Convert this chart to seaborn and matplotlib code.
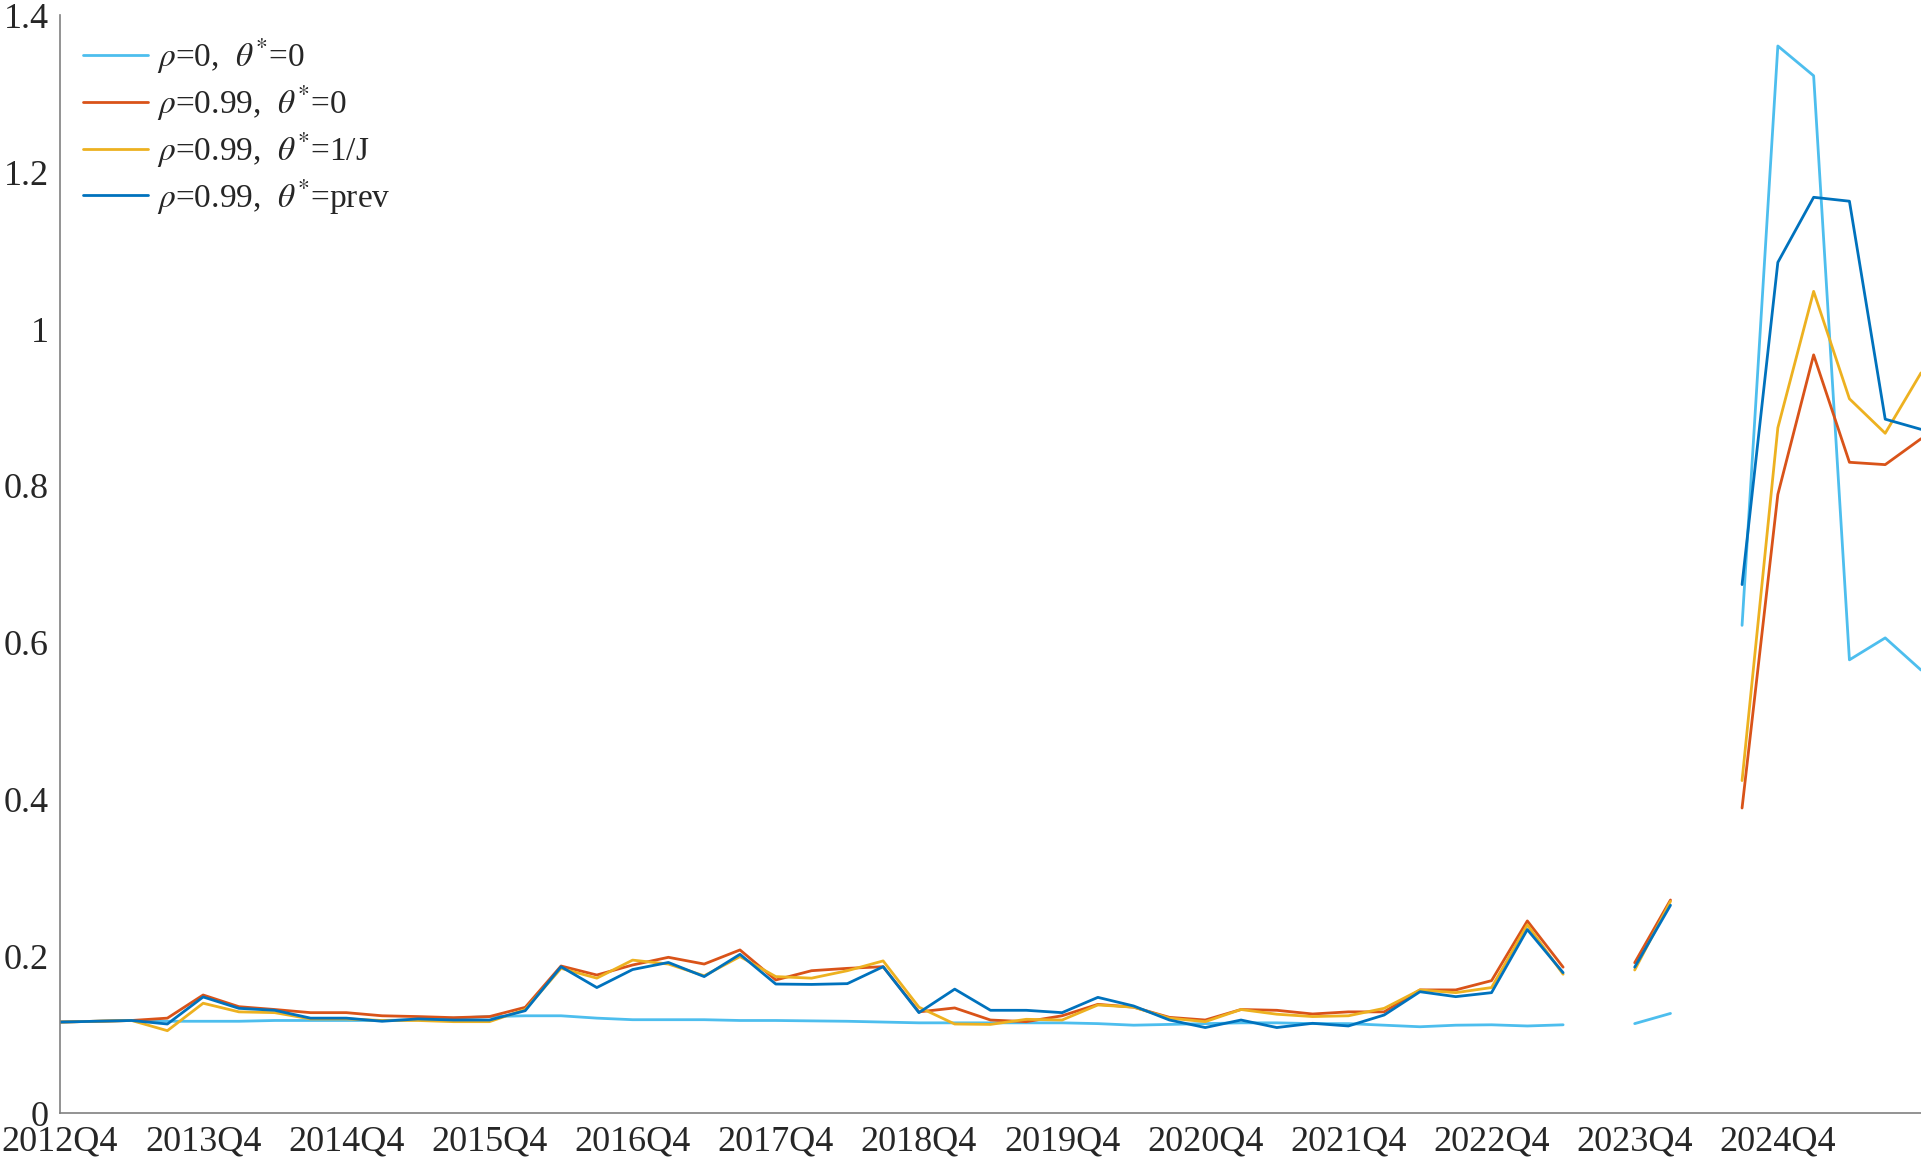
import numpy as np
import pandas as pd
import matplotlib
matplotlib.use("Agg")
import matplotlib.pyplot as plt
import seaborn as sns

nan = np.nan

quarters = ["2012Q4", "2013Q4", "2014Q4", "2015Q4", "2016Q4", "2017Q4",
            "2018Q4", "2019Q4", "2020Q4", "2021Q4", "2022Q4", "2023Q4", "2024Q4"]
ytick_labels = ["0", "0.2", "0.4", "0.6", "0.8", "1", "1.2", "1.4"]

rho0_theta0 = [0.116, 0.117, 0.118, 0.117, 0.117, 0.117, 0.118, 0.118, 0.118, 0.118,
               0.119, 0.121, 0.123, 0.124, 0.124, 0.121, 0.119, 0.119, 0.119, 0.118,
               0.118, 0.1175, 0.117, 0.116, 0.115, 0.115, 0.115, 0.115, 0.115, 0.114,
               0.112, 0.113, 0.114, 0.115, 0.115, 0.114, 0.114, 0.112, 0.110, 0.112,
               0.1125, 0.111, 0.1125, nan, 0.114, 0.127, nan, 0.622, 1.361, 1.323,
               0.578, 0.606, 0.565]

rho99_theta0 = [0.116, 0.117, 0.118, 0.121, 0.1505, 0.1356, 0.132, 0.128, 0.128, 0.124,
                0.123, 0.1216, 0.123, 0.1348, 0.1875, 0.176, 0.1888, 0.1986, 0.190, 0.208,
                0.1697, 0.1815, 0.1845, 0.1866, 0.129, 0.134, 0.1186, 0.1165, 0.124, 0.1386,
                0.135, 0.122, 0.1186, 0.132, 0.131, 0.1263, 0.129, 0.129, 0.157, 0.157,
                0.1688, 0.245, 0.186, nan, 0.1917, 0.2717, nan, 0.389, 0.789, 0.967,
                0.830, 0.827, 0.860]

rho99_theta1J = [0.116, 0.117, 0.118, 0.105, 0.140, 0.129, 0.128, 0.120, 0.120, 0.118,
                 0.118, 0.1165, 0.1165, 0.132, 0.1845, 0.172, 0.195, 0.190, 0.175, 0.1995,
                 0.174, 0.172, 0.1815, 0.194, 0.135, 0.1135, 0.113, 0.1195, 0.1186, 0.1378,
                 0.135, 0.121, 0.1165, 0.132, 0.126, 0.123, 0.124, 0.1335, 0.157, 0.1535,
                 0.160, 0.240, 0.177, nan, 0.1824, 0.270, nan, 0.424, 0.874, 1.048,
                 0.911, 0.867, 0.944]

rho99_thetaprev = [0.116, 0.117, 0.118, 0.1135, 0.148, 0.1335, 0.131, 0.121, 0.121, 0.117,
                   0.120, 0.1186, 0.1186, 0.1305, 0.1866, 0.160, 0.183, 0.192, 0.174, 0.2024,
                   0.1645, 0.164, 0.165, 0.1866, 0.128, 0.158, 0.131, 0.131, 0.128, 0.1475,
                   0.1365, 0.1186, 0.109, 0.1186, 0.109, 0.1144, 0.111, 0.125, 0.1547, 0.1484,
                   0.1535, 0.234, 0.179, nan, 0.186, 0.265, nan, 0.674, 1.085, 1.168,
                   1.163, 0.885, 0.872]

labels = [r"$\rho$=0,  $\theta^{*}$=0",
          r"$\rho$=0.99,  $\theta^{*}$=0",
          r"$\rho$=0.99,  $\theta^{*}$=1/J",
          r"$\rho$=0.99,  $\theta^{*}$=prev"]
colors = ["#4DBEEE", "#D95319", "#EDB120", "#0072BD"]

series = [rho0_theta0, rho99_theta0, rho99_theta1J, rho99_thetaprev]
rows = []
for lab, vals in zip(labels, series):
    seg = 0
    for i, v in enumerate(vals):
        if np.isnan(v):
            seg += 1
            continue
        rows.append({"t": i, "value": v, "series": lab, "seg": seg})
df = pd.DataFrame(rows)

sns.set_style("white")
plt.rcParams["font.family"] = ["Liberation Serif", "DejaVu Serif"]
plt.rcParams["mathtext.fontset"] = "stix"

fig = plt.figure(figsize=(19.21, 11.65), dpi=100)
ax = fig.add_axes([60 / 1921, 1 - 1113 / 1165, 1 - 60 / 1921, (1113 - 15.4) / 1165])

sns.lineplot(data=df, x="t", y="value", hue="series", units="seg", estimator=None,
             hue_order=labels, palette=colors, linewidth=2.0, ax=ax, legend=True)

ax.set_xlim(0, 52)
ax.set_ylim(0, 1.4)
ax.set_xticks(np.arange(0, 49, 4))
ax.set_xticklabels(quarters)
ax.set_yticks(np.linspace(0, 1.4, 8))
ax.set_yticklabels(ytick_labels)
ax.set_xlabel("")
ax.set_ylabel("")

for s in ["top", "right"]:
    ax.spines[s].set_visible(False)
for s in ["left", "bottom"]:
    ax.spines[s].set_color("#808080")
    ax.spines[s].set_linewidth(1.2)
ax.tick_params(axis="both", direction="in", length=13.5, width=1.2, color="#808080",
               labelsize=26, labelcolor="#262626")
ax.tick_params(axis="x", pad=9)
ax.tick_params(axis="y", pad=8)

handles, labs = ax.get_legend_handles_labels()
leg = ax.legend(handles, labs, loc="upper left", bbox_to_anchor=(70 / 1921, 1 - 23 / 1165),
                bbox_transform=fig.transFigure, frameon=False, fontsize=24,
                handlelength=1.95, handletextpad=0.25, labelspacing=0.22, borderaxespad=0)
for h in leg.get_lines():
    h.set_linewidth(2.0)

fig.savefig("out.png", dpi=100)
